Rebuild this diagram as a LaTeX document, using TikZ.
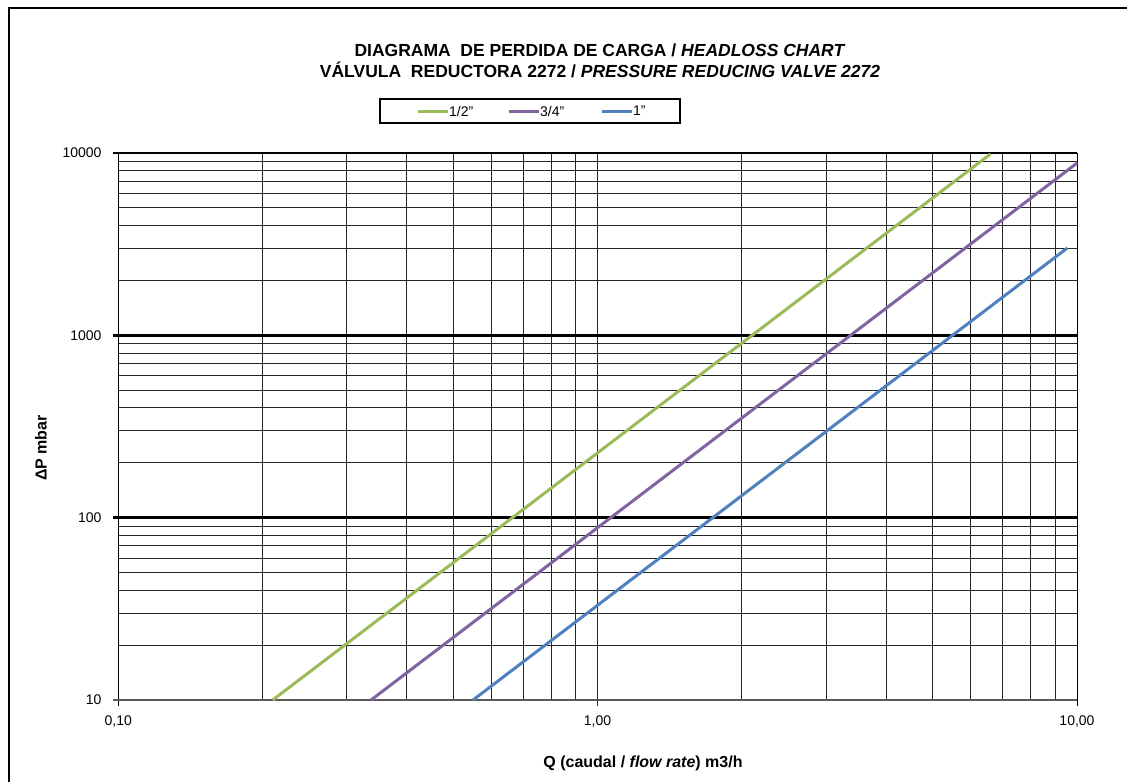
\documentclass[tikz,border=0pt]{standalone}
\usepackage{fontspec}
\setmainfont{Liberation Sans}
\usetikzlibrary{positioning}
\definecolor{halfin}{HTML}{9BBB59}
\definecolor{threeq}{HTML}{8064A2}
\definecolor{onein}{HTML}{4F81BD}
% log scales: flow rate Q (m3/h) -> x, pressure drop (mbar) -> y
\newcommand{\qx}[1]{118+479.5*(1+log10(#1))}
\newcommand{\py}[1]{700-182.33*(log10(#1)-1)}
\begin{document}
\begin{tikzpicture}[x=1pt,y=-1pt,
  grid/.style={black!85,line width=0.9pt},
  major/.style={black,line width=2.4pt},
  curve/.style={line width=3pt},
  ticklab/.style={font=\fontsize{14}{16}\selectfont},
  axtitle/.style={font=\fontsize{16}{18}\selectfont\bfseries}]
\useasboundingbox (0,0) rectangle (1127,782);
\draw[line width=1.2pt] (9,782) -- (9,8) -- (1127,8);
\node[font=\fontsize{17.5}{21}\selectfont\bfseries,align=center] (title) at (600,61)
  {DIAGRAMA\ \ DE PERDIDA DE CARGA / \textit{HEADLOSS CHART}\\
   VÁLVULA\ \ REDUCTORA 2272 / \textit{PRESSURE REDUCING VALVE 2272}};
% legend
\node[draw,line width=1.1pt,minimum width=300pt,minimum height=24pt] (legend) at (530,111) {};
\draw[curve,halfin] (418,111) -- (448,111) coordinate (k1);
\node[ticklab,right=0pt of k1,inner sep=1pt] (l1) {1/2"};
\draw[curve,threeq] (509,111) -- (539,111) coordinate (k2);
\node[ticklab,right=0pt of k2,inner sep=1pt] (l2) {3/4"};
\draw[curve,onein] (602,111) -- (632,111) coordinate (k3);
\node[ticklab,right=0pt of k3,inner sep=1pt] (l3) {1"};
% grid
\foreach \d in {0.1,1}
  \foreach \m in {2,...,9}
    \draw[grid] ({\qx{\d*\m}},153) -- ({\qx{\d*\m}},700);
\foreach \d in {10,100,1000}
  \foreach \m in {2,...,9}
    \draw[grid] (118,{\py{\d*\m}}) -- (1077,{\py{\d*\m}});
\draw[grid] ({\qx{1}},153) -- ({\qx{1}},706);
\draw[black,line width=1pt] (1077,153) -- (1077,706);
\draw[black,line width=1pt] (118,153) -- (118,706);
\foreach \p in {100,1000,10000}
  \draw[major] (113,{\py{\p}}) -- (1077,{\py{\p}});
\draw[black!65,line width=1.2pt] (113,700) -- (1077,700);
% tick labels
\foreach \p in {10,100,1000,10000}
  \node[ticklab,anchor=east] (y\p) at (105,{\py{\p}}) {\p};
\node[ticklab] (x1) at ({\qx{0.1}},721) {0,10};
\node[ticklab] (x2) at ({\qx{1}},721) {1,00};
\node[ticklab] (x3) at ({\qx{10}},721) {10,00};
\node[axtitle] (qlab) at (643,763) {Q (caudal / \textit{flow rate}) m3/h};
\node[axtitle,rotate=90] (plab) at (41,448) {ΔP mbar};
% curves, dp = 1000 (Q/Kv)^2
\coordinate (h0) at ({\qx{0.21}},{\py{10}});
\coordinate (h1) at ({\qx{6.6}},{\py{1000*(6.6/2.1)^2}});
\coordinate (t0) at ({\qx{0.337}},{\py{10}});
\coordinate (t1) at ({\qx{10}},{\py{1000*(10/3.37)^2}});
\coordinate (o0) at ({\qx{0.55}},{\py{10}});
\coordinate (o1) at ({\qx{9.55}},{\py{1000*(9.55/5.5)^2}});
\draw[curve,halfin] (h0) -- (h1);
\draw[curve,threeq] (t0) -- (t1);
\draw[curve,onein] (o0) -- (o1);
\end{tikzpicture}
\end{document}
